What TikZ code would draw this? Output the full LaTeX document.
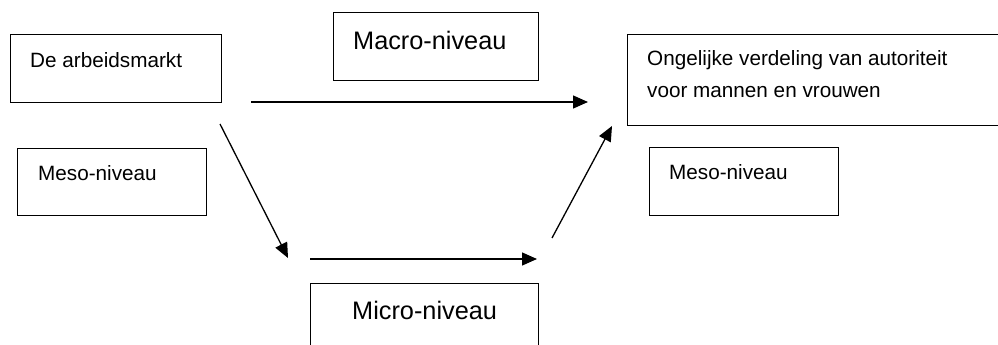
\documentclass[tikz,border=0pt]{standalone}
\usepackage{fontspec}
\setmainfont{Liberation Sans}
\usetikzlibrary{arrows.meta,positioning}
\tikzset{
  bx/.style   = {draw=black, line width=1.4pt, inner sep=0pt, anchor=north west},
  ar/.style   = {-{Triangle[length=15pt,width=13pt]}, draw=black, line width=1.3pt},
  lbl/.style  = {font=\fontsize{20.7}{31.5}\selectfont, inner sep=0pt, anchor=base west, align=left},
  lblb/.style = {lbl, font=\fontsize{25.3}{31.5}\selectfont},
}
\begin{document}
\begin{tikzpicture}[x=1pt, y=-1pt]
  \useasboundingbox (0,0) rectangle (998,345);
  \clip (0,0) rectangle (998,345);
  % boxes
  \node[bx, minimum width=211, minimum height=68] (arb)  at (10,34)  {};
  \node[bx, minimum width=189, minimum height=67] (mesl) at (17,148) {};
  \node[bx, minimum width=205, minimum height=68] (mac)  at (333,12) {};
  \node[bx, minimum width=228, minimum height=80] (mic)  at (310,283) {};
  \node[bx, minimum width=390, minimum height=91] (ong)  at (627,34) {};
  \node[bx, minimum width=189, minimum height=68] (mesr) at (649,147) {};
  % texts
  \node[lbl]  (arbt)  at (30,67)  {De arbeidsmarkt};
  \node[lbl]  (meslt) at (38,180) {Meso-niveau};
  \node[lblb] (mact)  at (353,49) {Macro-niveau};
  \node[lblb] (mict)  at (352,319) {Micro-niveau};
  \node[lbl]  (ongt)  at (647,97) {Ongelijke verdeling van autoriteit\\voor mannen en vrouwen};
  \node[lbl]  (mesrt) at (669,179) {Meso-niveau};
  % arrow ends
  \coordinate (a1) at (220,124);  \coordinate (a2) at (288,258);
  \coordinate (b1) at (251,102);  \coordinate (b2) at (588,102);
  \coordinate (c1) at (310,259);  \coordinate (c2) at (537,259);
  \coordinate (d1) at (552,238);  \coordinate (d2) at (612,126);
  \draw[ar] (a1) -- (a2);
  \draw[ar] (b1) -- (b2);
  \draw[ar] (c1) -- (c2);
  \draw[ar] (d1) -- (d2);
\end{tikzpicture}
\end{document}
